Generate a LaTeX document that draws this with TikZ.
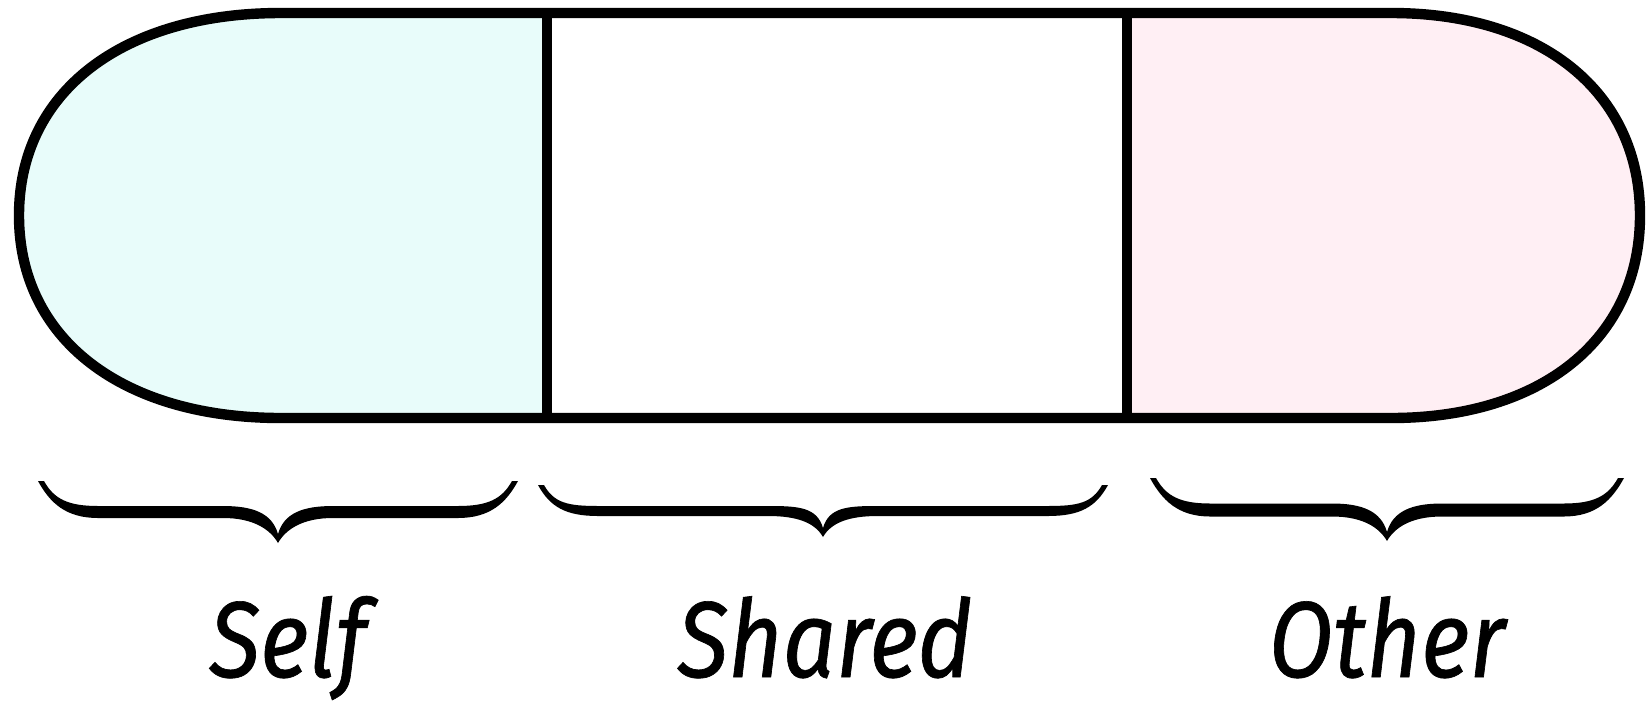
\documentclass[tikz,border=0pt]{standalone}
\usepackage{fontspec}
\setmainfont{Fira Sans}[FakeStretch=0.87, FakeBold=0.6]
\definecolor{selfcol}{HTML}{E8FCFA}
\definecolor{othercol}{HTML}{FFEFF4}
\newcommand{\bracepath}[7]{% L R C T B P t
  \fill (#1,#4) .. controls ({#1+12},{#4+22}) and ({#1+28},{#5+#7/2}) .. ({#1+60},{#5+#7/2})
    -- ({#3-55},{#5+#7/2}) .. controls ({#3-25},{#5+#7/2}) and ({#3-8},{#6-14}) .. (#3,#6)
    .. controls ({#3+8},{#6-14}) and ({#3+25},{#5+#7/2}) .. ({#3+55},{#5+#7/2})
    -- ({#2-60},{#5+#7/2}) .. controls ({#2-28},{#5+#7/2}) and ({#2-12},{#4+22}) .. (#2,#4)
    -- ({#2-6},{#4}) .. controls ({#2-16},{#4+18}) and ({#2-30},{#5-#7/2}) .. ({#2-60},{#5-#7/2})
    -- ({#3+55},{#5-#7/2}) .. controls ({#3+25},{#5-#7/2}) and ({#3+6},{#6-30}) .. (#3,{#6-9})
    .. controls ({#3-6},{#6-30}) and ({#3-25},{#5-#7/2}) .. ({#3-55},{#5-#7/2})
    -- ({#1+60},{#5-#7/2}) .. controls ({#1+30},{#5-#7/2}) and ({#1+16},{#4+18}) .. ({#1+6},{#4}) -- cycle;}
\tikzset{
  outline/.style={draw=black, line width=5.2pt, line join=round},
  divider/.style={draw=black, line width=4.6pt},
  label/.style={anchor=base, inner sep=0pt, font=\fontsize{54}{56}\selectfont\itshape},
}
\begin{document}
\begin{tikzpicture}[x=0.5pt,y=-0.5pt]
\useasboundingbox (0,0) rectangle (1646,708);
% fills
\fill[selfcol] (547,13) -- (281,13) .. controls (122,13) and (19,92) .. (19,215.5)
  .. controls (19,339) and (122,418) .. (281,418) -- (547,418) -- cycle;
\fill[othercol] (1127,13) -- (1391,13) .. controls (1542,13) and (1640,92) .. (1640,215.5)
  .. controls (1640,339) and (1542,418) .. (1391,418) -- (1127,418) -- cycle;
% dividers
\coordinate (d1t) at (547,13); \coordinate (d1b) at (547,418);
\coordinate (d2t) at (1127,13); \coordinate (d2b) at (1127,418);
\draw[divider] (d1t) -- (d1b);
\draw[divider] (d2t) -- (d2b);
% outline
\draw[outline] (281,13) -- (1391,13) .. controls (1542,13) and (1640,92) .. (1640,215.5)
  .. controls (1640,339) and (1542,418) .. (1391,418) -- (281,418)
  .. controls (122,418) and (19,339) .. (19,215.5)
  .. controls (19,92) and (122,13) .. cycle;
% braces
\bracepath{38}{518}{278}{481}{512}{543}{12}
\bracepath{538}{1108}{823}{485}{511}{537}{10}
\bracepath{1150}{1624}{1387}{478}{510}{541}{13}
% labels
\node[label] (self) at (288,677) {Self};
\node[label] (shared) at (825,677) {Shared};
\node[label] (other) at (1387,677) {Other};
\end{tikzpicture}
\end{document}
